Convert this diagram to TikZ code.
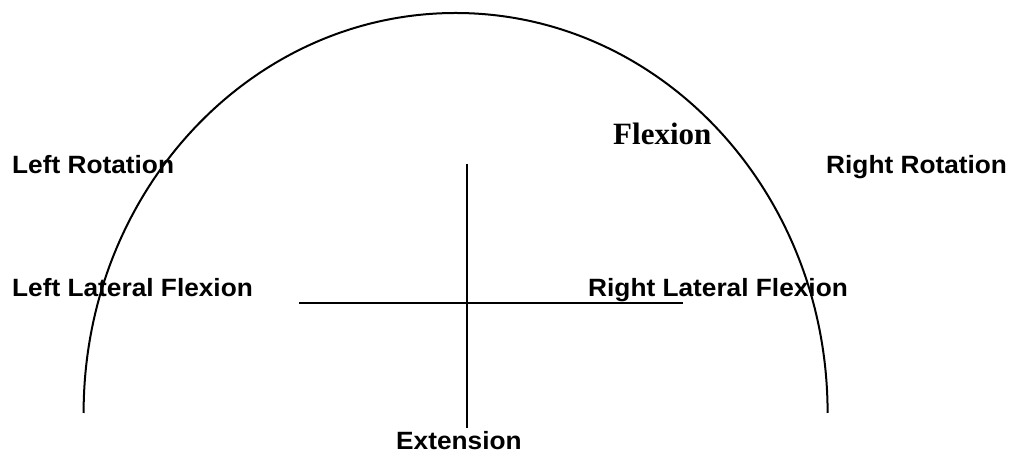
\documentclass[tikz,border=0pt]{standalone}
\usepackage{fontspec}
\setmainfont{Liberation Serif}
\setsansfont{Liberation Sans}
\begin{document}
\begin{tikzpicture}[x=1pt,y=1pt,
  lbl/.style={font=\sffamily\bfseries\fontsize{25}{29}\selectfont, inner sep=0pt, anchor=base west, xscale=1.05},
  serlbl/.style={font=\rmfamily\bfseries\fontsize{31}{35}\selectfont, inner sep=0pt, anchor=base west},
  axis/.style={line width=1.5pt},
  curve/.style={line width=2pt}]
\useasboundingbox (0,0) rectangle (1011,454);
% arc (half ellipse)
\draw[curve] (83.6,41) arc[start angle=180, end angle=0, x radius=372, y radius=400];
% axes
\coordinate (vt) at (467,290);
\coordinate (vb) at (467,26);
\coordinate (hl) at (299,151);
\coordinate (hr) at (683,151);
\draw[axis] (vt) -- (vb);
\draw[axis] (hl) -- (hr);
% labels
\node[serlbl] (flex) at (613,309.7) {Flexion};
\node[lbl] (lrot) at (12,280.7) {Left Rotation};
\node[lbl] (rrot) at (826,280.7) {Right Rotation};
\node[lbl] (llat) at (12,157) {Left Lateral Flexion};
\node[lbl] (rlat) at (588,157) {Right Lateral Flexion};
\node[lbl] (ext) at (396,4) {Extension};
\end{tikzpicture}
\end{document}
